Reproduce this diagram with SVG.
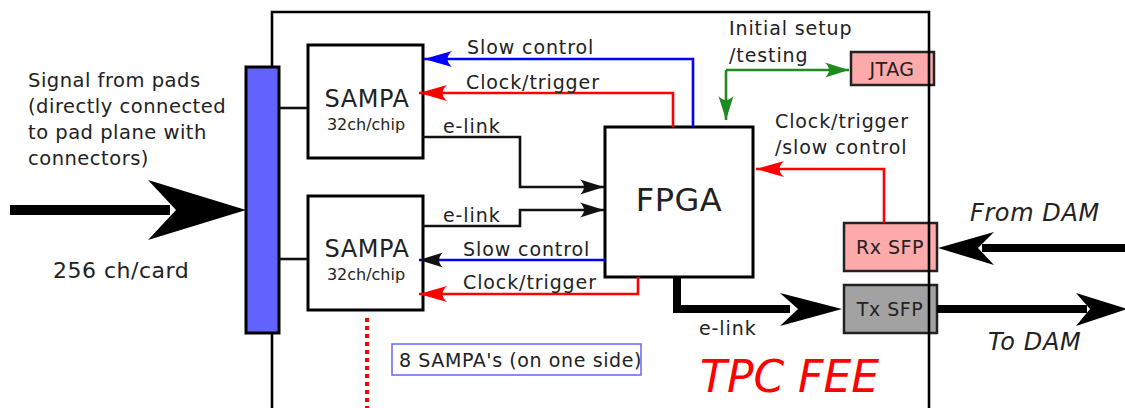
<svg xmlns="http://www.w3.org/2000/svg" width="1125" height="408" viewBox="0 0 1125 408">
<style>
text{font-family:"DejaVu Sans","Verdana",sans-serif;fill:#222;}
.t{font-size:19px;letter-spacing:0.9px;}
.lt{font-size:19.5px;letter-spacing:0.5px;}
.box{fill:#fff;stroke:#000;stroke-width:3;}
.ln{fill:none;stroke-width:2.6;}
.blue{stroke:#0000ff;}
.red{stroke:#ff0000;}
.blk{stroke:#111;}
.grn{stroke:#1f8a1f;}
.sfp{stroke:#222;stroke-width:2.5;}
</style>
<defs>
<marker id="aB" markerUnits="userSpaceOnUse" orient="auto" overflow="visible" markerWidth="30" markerHeight="20"><path d="M0,0 L-28,-8 Q-19,0 -28,8 Z" fill="#0000ff"/></marker>
<marker id="aR" markerUnits="userSpaceOnUse" orient="auto" overflow="visible" markerWidth="30" markerHeight="20"><path d="M0,0 L-28,-8 Q-19,0 -28,8 Z" fill="#ff0000"/></marker>
<marker id="aK" markerUnits="userSpaceOnUse" orient="auto" overflow="visible" markerWidth="30" markerHeight="20"><path d="M0,0 L-24,-7.5 Q-16,0 -24,7.5 Z" fill="#111"/></marker>
<marker id="aG" markerUnits="userSpaceOnUse" orient="auto" overflow="visible" markerWidth="30" markerHeight="20"><path d="M0,0 L-24,-7.5 Q-16,0 -24,7.5 Z" fill="#1f8a1f"/></marker>
</defs>

<g id="input-arrow">
<rect x="10" y="205" width="160" height="10" fill="#000"/>
<path d="M246,210 L148,180 L176,210 L148,240 Z" fill="#000"/>
</g>
<text x="28" y="87" class="lt">Signal from pads</text>
<text x="28" y="113" class="lt">(directly connected</text>
<text x="28" y="139" class="lt">to pad plane with</text>
<text x="28" y="165" class="lt">connectors)</text>
<text x="53" y="278" style="font-size:22px;letter-spacing:0.5px">256 ch/card</text>

<g id="jtag">
<rect x="851" y="52" width="83" height="33" fill="#ffaaaa" class="sfp"/>
<text x="892" y="76" text-anchor="middle" style="font-size:19px;letter-spacing:0.5px">JTAG</text>
</g>
<g id="rx-sfp">
<rect x="844" y="223" width="93" height="48" fill="#ffaaaa" class="sfp"/>
<text x="890" y="254" text-anchor="middle" style="font-size:19px;letter-spacing:0.5px">Rx SFP</text>
</g>
<g id="tx-sfp">
<rect x="844" y="285" width="93" height="48" fill="#a2a2a2" class="sfp"/>
<text x="890" y="316" text-anchor="middle" style="font-size:19px;letter-spacing:0.5px">Tx SFP</text>
</g>

<g id="board">
<path d="M272,410 V12 H929 V410" fill="none" stroke="#000" stroke-width="2.6"/>
</g>

<g id="connector-bar">
<rect x="246" y="67" width="33" height="266" fill="#6262ff" stroke="#000" stroke-width="3"/>
</g>

<g id="sampa1">
<rect x="308" y="45" width="115" height="113" class="box"/>
<text x="367" y="107" text-anchor="middle" style="font-size:24px;letter-spacing:0.6px">SAMPA</text>
<text x="366" y="130" text-anchor="middle" style="font-size:16px">32ch/chip</text>
</g>
<g id="sampa2">
<rect x="308" y="196" width="115" height="114" class="box"/>
<text x="367" y="257" text-anchor="middle" style="font-size:24px;letter-spacing:0.6px">SAMPA</text>
<text x="366" y="280" text-anchor="middle" style="font-size:16px">32ch/chip</text>
</g>
<g id="fpga">
<rect x="605" y="127" width="148" height="150" class="box"/>
<text x="679" y="211" text-anchor="middle" style="font-size:32px;letter-spacing:0.5px">FPGA</text>
</g>

<g id="connectors">
<line x1="279" y1="108" x2="308" y2="108" class="ln blk"/>
<line x1="279" y1="259" x2="308" y2="259" class="ln blk"/>
<path d="M693,127 V59 H424" class="ln blue" marker-end="url(#aB)"/>
<path d="M673,127 V93 H419" class="ln red" marker-end="url(#aR)"/>
<path d="M423,137 H520 V187 H604" class="ln blk" marker-end="url(#aK)"/>
<path d="M423,226 H520 V210 H604" class="ln blk" marker-end="url(#aK)"/>
<path d="M605,260 H419" class="ln blue" marker-end="url(#aK)"/>
<path d="M638,277 V294 H419" class="ln red" marker-end="url(#aR)"/>
<path d="M726,70 H849" class="ln grn" marker-end="url(#aG)"/>
<path d="M726,70 V120" class="ln grn" marker-end="url(#aG)"/>
<path d="M884,223 V169 H756" class="ln red" marker-end="url(#aR)"/>
<path d="M677,277 V309 H790" fill="none" stroke="#000" stroke-width="8"/>
<path d="M842,309 L780,293 L798,309 L780,326 Z" fill="#000"/>
<rect x="982" y="244" width="143" height="8" fill="#000"/>
<path d="M938,248 L994,232 L978,248 L994,265 Z" fill="#000"/>
<rect x="937" y="305" width="150" height="8" fill="#000"/>
<path d="M1127,309 L1076,293 L1090,309 L1076,326 Z" fill="#000"/>
<line x1="367" y1="318" x2="367" y2="408" stroke="#ff0000" stroke-width="4" stroke-dasharray="4,4"/>
</g>

<g id="labels">
<text x="467" y="54" class="t">Slow control</text>
<text x="466" y="89" class="t">Clock/trigger</text>
<text x="443" y="133" class="t">e-link</text>
<text x="443" y="222" class="t">e-link</text>
<text x="463" y="256" class="t">Slow control</text>
<text x="463" y="289" class="t">Clock/trigger</text>
<text x="729" y="35" class="t">Initial setup</text>
<text x="729" y="62" class="t">/testing</text>
<text x="775" y="128" class="t">Clock/trigger</text>
<text x="775" y="154" class="t">/slow control</text>
<text x="699" y="335" class="t">e-link</text>
<text x="970" y="221" style="font-size:24px;font-style:italic;letter-spacing:0.6px">From DAM</text>
<text x="988" y="350" style="font-size:24px;font-style:italic;letter-spacing:0.6px">To DAM</text>
<text x="700" y="392" style="font-size:44px;font-style:italic;fill:#ff0000">TPC FEE</text>
</g>
<g id="note">
<rect x="392" y="344" width="249" height="31" fill="none" stroke="#6f6fff" stroke-width="1.6"/>
<text x="399" y="367" class="t" style="letter-spacing:0.6px">8 SAMPA's (on one side)</text>
</g>
</svg>
